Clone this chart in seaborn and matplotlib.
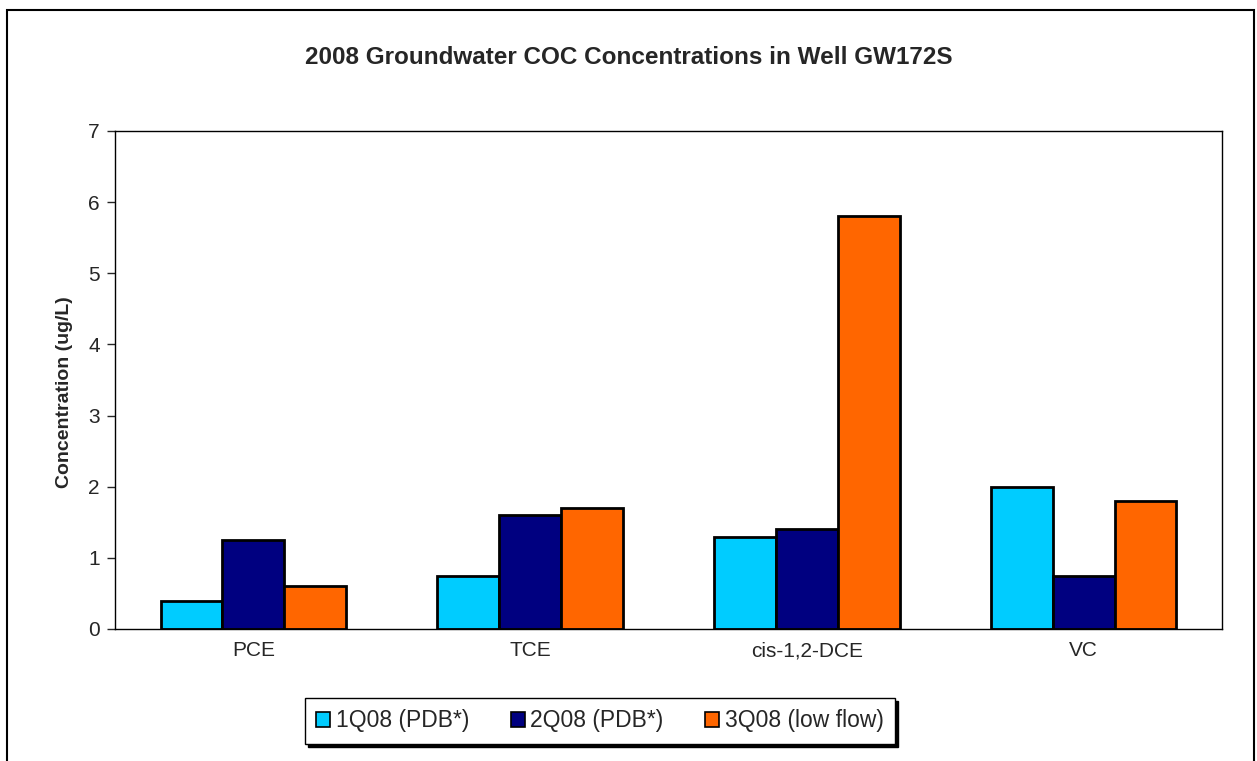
import matplotlib
matplotlib.use("Agg")
import matplotlib.pyplot as plt
import matplotlib.patches as mpatches
import seaborn as sns
import pandas as pd

# Datos
compuestos = ["PCE", "TCE", "cis-1,2-DCE", "VC"]
trimestres = ["1Q08 (PDB*)", "2Q08 (PDB*)", "3Q08 (low flow)"]
q1 = [0.4, 0.75, 1.3, 2.0]
q2 = [1.25, 1.6, 1.4, 0.75]
q3 = [0.6, 1.7, 5.8, 1.8]
colores = ["#00CCFF", "#000080", "#FF6600"]

df = pd.DataFrame({
    "compuesto": compuestos * 3,
    "trimestre": [t for t in trimestres for _ in compuestos],
    "valor": q1 + q2 + q3,
})

sns.set_style("white")
plt.rcParams["font.family"] = ["Liberation Sans", "DejaVu Sans"]

fig = plt.figure(figsize=(12.57, 7.61), dpi=100)
ax = fig.add_axes([115 / 1257, 1 - 629 / 761, 1107 / 1257, 498 / 761])

sns.barplot(data=df, x="compuesto", y="valor", hue="trimestre",
            order=compuestos, hue_order=trimestres, palette=colores,
            width=0.67, edgecolor="black", linewidth=2, saturation=1,
            legend=False, ax=ax)

ax.set_ylim(0, 7)
ax.set_yticks(range(0, 8))
ax.set_xlim(-0.5, 3.5)
ax.set_xlabel("")
ax.set_ylabel("Concentration (ug/L)", fontsize=14, fontweight="bold")
ax.yaxis.set_label_coords(-0.038, 0.476)
ax.tick_params(axis="both", labelsize=15, length=0)
ax.tick_params(axis="y", length=6, width=1, direction="out", left=True, pad=5)
ax.tick_params(axis="x", pad=9)
for s in ax.spines.values():
    s.set_color("black")
    s.set_linewidth(1)

fig.text(629 / 1257, 1 - 58 / 761, "2008 Groundwater COC Concentrations in Well GW172S",
         ha="center", va="center", fontsize=17.5, fontweight="bold")

# Marco exterior
marco = mpatches.Rectangle((7 / 1257, -0.05), 1247 / 1257, 1.05 - 10 / 761,
                           transform=fig.transFigure, fill=False,
                           edgecolor="black", linewidth=1.5)
fig.patches.append(marco)

handles = [mpatches.Patch(facecolor=c, edgecolor="black", linewidth=1.2) for c in colores]
leg = fig.legend(handles, trimestres, ncol=3, loc="center",
                 bbox_to_anchor=(600 / 1257, 1 - 721 / 761), fontsize=16.5,
                 frameon=True, fancybox=False, shadow={"color": "black", "alpha": 1},
                 handlelength=0.6, handleheight=0.6, handletextpad=0.26,
                 columnspacing=1.8, borderpad=0.5)
leg.get_frame().set_edgecolor("black")
leg.get_frame().set_linewidth(1)

fig.savefig("out.png", dpi=100)
